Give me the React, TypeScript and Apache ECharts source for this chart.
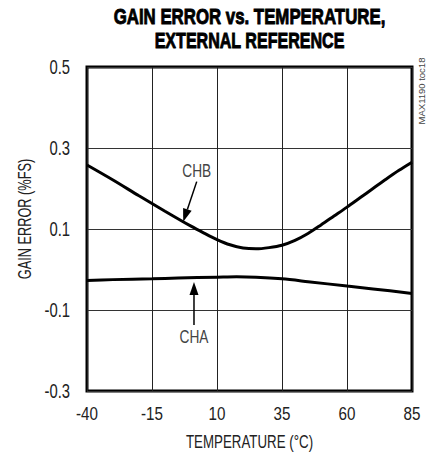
import React, { useEffect, useRef } from "react";
import * as echarts from "echarts";

const titleLines = ["GAIN ERROR vs. TEMPERATURE,", "EXTERNAL REFERENCE"];
const xName = "TEMPERATURE (°C)";
const yName = "GAIN ERROR (%FS)";
const xTicks = [-40, -15, 10, 35, 60, 85];
const yTicks = [-0.3, -0.1, 0.1, 0.3, 0.5];
const yTickLabels = ["-0.3", "-0.1", "0.1", "0.3", "0.5"];

const chbTemps = [-40, -30, -20, -10, 0, 5, 10, 15, 20, 25, 30, 35, 40, 45, 50, 55, 60, 65, 70, 75, 80, 85];
const chbValues = [0.258, 0.221, 0.182, 0.144, 0.107, 0.09, 0.074, 0.061, 0.053, 0.051, 0.054, 0.06, 0.072, 0.089, 0.11, 0.132, 0.154, 0.177, 0.2, 0.223, 0.245, 0.265];

const chaTemps = [-40, -30, -15, -5, 10, 17.5, 25, 35, 45, 60, 70, 85];
const chaValues = [-0.027, -0.025, -0.023, -0.021, -0.019, -0.018, -0.019, -0.023, -0.03, -0.041, -0.048, -0.059];

// annotation anchors in data coordinates
const chbNote = { text: "CHB", label: [2.2, 0.246], tail: [2.2, 0.217], tip: [-3.0, 0.118] };
const chaNote = { text: "CHA", label: [1.15, -0.164], tail: [1.15, -0.137], tip: [1.15, -0.031] };

const FONT = "'Liberation Sans', Arial, sans-serif";

export default function App() {
  const ref = useRef<HTMLDivElement>(null);
  useEffect(() => {
    if (!ref.current) return;
    const chart = echarts.init(ref.current, undefined, { renderer: "svg" });
    const option: any = {
      animation: false,
      backgroundColor: "#ffffff",
      grid: {
        left: 87,
        right: 17,
        top: 67,
        bottom: 64,
        show: true,
        borderColor: "#000",
        borderWidth: 3,
        backgroundColor: "transparent",
      },
      xAxis: {
        type: "value",
        min: -40,
        max: 85,
        interval: 25,
        axisLine: { show: false },
        axisTick: { show: false },
        axisLabel: { show: false },
        splitLine: { show: true, lineStyle: { color: "#222", width: 1 } },
      },
      yAxis: {
        type: "value",
        min: -0.3,
        max: 0.5,
        interval: 0.2,
        axisLine: { show: false },
        axisTick: { show: false },
        axisLabel: { show: false },
        splitLine: { show: true, lineStyle: { color: "#333", width: 1 } },
      },
      series: [
        {
          name: "CHB",
          type: "line",
          data: chbTemps.map((t, i) => [t, chbValues[i]]),
          smooth: 0.3,
          showSymbol: false,
          lineStyle: { color: "#000", width: 3 },
        },
        {
          name: "CHA",
          type: "line",
          data: chaTemps.map((t, i) => [t, chaValues[i]]),
          smooth: 0.3,
          showSymbol: false,
          lineStyle: { color: "#000", width: 3 },
        },
      ],
    };
    chart.setOption(option);

    const px = (p: number[]) => chart.convertToPixel({ gridIndex: 0 }, p) as number[];
    const xMin = xTicks[0];
    const xMax = xTicks[xTicks.length - 1];
    const yMin = yTicks[0];
    const yMax = yTicks[yTicks.length - 1];
    const tl = px([xMin, yMax]);
    const br = px([xMax, yMin]);

    const txt = (
      text: string,
      x: number,
      y: number,
      size: number,
      align: string,
      opts: any = {}
    ) => ({
      type: "text",
      x,
      y,
      scaleX: opts.scaleX ?? 0.76,
      rotation: opts.rotation ?? 0,
      style: {
        text,
        fill: opts.fill ?? "#222",
        stroke: opts.stroke,
        lineWidth: opts.lineWidth ?? 0,
        font: `${opts.weight ?? "normal"} ${size}px ${FONT}`,
        textAlign: align,
        textVerticalAlign: "middle",
      },
    });

    const arrow = (note: any) => {
      const lbl = px(note.label);
      const tail = px(note.tail);
      const tip = px(note.tip);
      const dx = tip[0] - tail[0];
      const dy = tip[1] - tail[1];
      const len = Math.sqrt(dx * dx + dy * dy);
      const ux = dx / len;
      const uy = dy / len;
      const hl = 13;
      const hw = 4.5;
      const bx = tip[0] - ux * hl;
      const by = tip[1] - uy * hl;
      return [
        txt(note.text, lbl[0], lbl[1], 18.5, "center", { fill: "#444", scaleX: 0.74 }),
        {
          type: "line",
          shape: { x1: tail[0], y1: tail[1], x2: bx, y2: by },
          style: { stroke: "#000", lineWidth: 1.5 },
        },
        {
          type: "polygon",
          shape: {
            points: [
              [tip[0], tip[1]],
              [bx - uy * hw, by + ux * hw],
              [bx + uy * hw, by - ux * hw],
            ],
          },
          style: { fill: "#000" },
        },
      ];
    };

    const cx = (tl[0] + br[0]) / 2;
    const cy = (tl[1] + br[1]) / 2;
    const titleOpts = { weight: "bold", fill: "#000", stroke: "#000", lineWidth: 0.9 };
    const graphics: any[] = [
      txt(titleLines[0], cx, 16, 22, "center", { ...titleOpts, scaleX: 0.765 }),
      txt(titleLines[1], cx, 41, 22, "center", { ...titleOpts, scaleX: 0.73 }),
      ...xTicks.map((t) => {
        const p = px([t, yMin]);
        return txt(String(t), p[0], p[1] + 22, 19, "center", { scaleX: 0.8 });
      }),
      ...yTicks.map((v, i) => {
        const p = px([xMin, v]);
        return txt(yTickLabels[i], p[0] - 17, p[1], 19.5, "right", { scaleX: 0.76 });
      }),
      txt(xName, cx, br[1] + 51, 18, "center", { scaleX: 0.74 }),
      txt(yName, tl[0] - 62, cy - 10, 18, "center", { rotation: Math.PI / 2, scaleX: 0.71 }),
      ...arrow(chbNote),
      ...arrow(chaNote),
      txt("MAX1190 toc18", br[0] + 9.5, tl[1] + 24, 9.5, "center", {
        rotation: Math.PI / 2,
        scaleX: 1,
        fill: "#444",
      }),
    ];
    chart.setOption({ graphic: graphics });
    return () => chart.dispose();
  }, []);
  return (
    <div
      ref={ref}
      style={{ position: "fixed", left: 0, top: 0, width: 429, height: 455 }}
    />
  );
}
